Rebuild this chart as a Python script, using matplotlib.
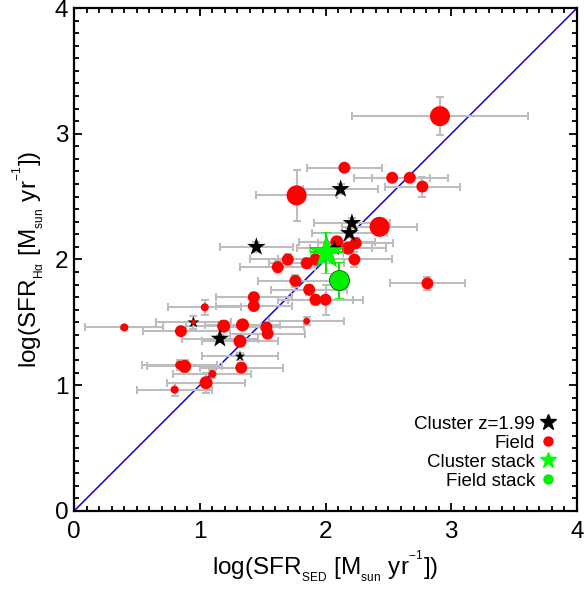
import matplotlib
matplotlib.use("Agg")
import matplotlib.pyplot as plt
from matplotlib.lines import Line2D
from matplotlib.ticker import MultipleLocator

plt.rcParams['font.family'] = ['Liberation Sans', 'DejaVu Sans']
plt.rcParams['mathtext.fontset'] = 'custom'
plt.rcParams['mathtext.rm'] = 'Liberation Sans'
plt.rcParams['mathtext.it'] = 'Liberation Sans:italic'

# ---- Field galaxies ----
field_x = [0.40, 0.85, 1.04, 1.19, 1.34, 1.32, 0.88, 0.84, 1.33, 1.10, 1.05, 0.80,
           1.43, 1.43, 1.53, 1.54, 1.85, 1.62, 1.70, 1.76, 1.87, 1.92, 2.00, 1.85,
           1.92, 2.09, 2.18, 2.24, 2.23, 1.77, 2.43, 2.91, 2.15, 2.53, 2.67, 2.77, 2.81]
field_y = [1.46, 1.43, 1.62, 1.47, 1.48, 1.35, 1.15, 1.16, 1.14, 1.09, 1.02, 0.965,
           1.70, 1.63, 1.46, 1.41, 1.51, 1.94, 2.00, 1.83, 1.76, 1.68, 1.68, 1.97,
           2.00, 2.14, 2.09, 2.13, 2.00, 2.51, 2.26, 3.14, 2.73, 2.65, 2.65, 2.58, 1.81]
field_xerr = [0.31, 0.30, 0.29, 0.30, 0.30, 0.30, 0.30, 0.30, 0.33, 0.31, 0.31, 0.30,
              0.30, 0.30, 0.30, 0.30, 0.30, 0.30, 0.30, 0.30, 0.30, 0.30, 0.30, 0.30,
              0.30, 0.30, 0.30, 0.30, 0.30, 0.32, 0.30, 0.70, 0.30, 0.30, 0.30, 0.30, 0.30]
field_yerr = [0.01, 0.03, 0.06, 0.04, 0.03, 0.04, 0.05, 0.04, 0.04, 0.03, 0.08, 0.05,
              0.03, 0.03, 0.03, 0.03, 0.03, 0.05, 0.04, 0.05, 0.04, 0.04, 0.12, 0.04,
              0.04, 0.04, 0.04, 0.04, 0.06, 0.20, 0.05, 0.15, 0.03, 0.02, 0.02, 0.08, 0.05]
field_size = [5.8, 8.6, 5.8, 9.4, 9.4, 9.4, 9.4, 6.5, 8.6, 5.8, 9.4, 5.8,
              8.6, 8.6, 8.6, 8.6, 5.0, 8.6, 8.6, 8.6, 8.6, 8.6, 8.6, 8.6,
              8.6, 9.4, 9.4, 8.6, 8.6, 14.4, 14.4, 14.4, 8.6, 8.6, 8.6, 8.6, 8.6]

# ---- Cluster z=1.99 members ----
clus_x = [1.16, 0.95, 1.32, 1.45, 2.12, 2.21, 2.19, 2.07]
clus_y = [1.37, 1.50, 1.23, 2.10, 2.56, 2.29, 2.21, 2.09]
clus_xerr = [0.30, 0.30, 0.30, 0.29, 0.30, 0.30, 0.30, 0.30]
clus_yerr = [0.03, 0.05, 0.03, 0.04, 0.04, 0.04, 0.04, 0.04]
clus_size = [14.0, 9.0, 8.0, 14.0, 14.0, 14.0, 14.0, 12.0]

# red dot overlying small star
overlap_x = [0.95]
overlap_y = [1.50]

# ---- Stacks ----
cstack_x, cstack_y = [2.00], [2.06]
cstack_xerr = [[0.12], [0.14]]
cstack_yerr = [[0.17], [0.16]]
fstack_x, fstack_y = [2.11], [1.84]
fstack_yerr = [[0.15], [0.14]]

xticks = [0, 1, 2, 3, 4]
yticks = [0, 1, 2, 3, 4]

fig = plt.figure(figsize=(5.86, 5.93), dpi=100)
ax = fig.add_axes([0.1263, 0.1383, 0.8584, 0.8482])

ax.plot([0, 4], [0, 4], color='#0000ff', lw=1.1, zorder=1)

gray = '#bdbdbd'
ax.errorbar(field_x, field_y, xerr=field_xerr, yerr=field_yerr, fmt='none',
            ecolor=gray, elinewidth=1.5, capsize=3, capthick=1.5, zorder=2)
ax.errorbar(clus_x, clus_y, xerr=clus_xerr, yerr=clus_yerr, fmt='none',
            ecolor=gray, elinewidth=1.5, capsize=3, capthick=1.5, zorder=2)

ax.scatter(field_x, field_y, s=[v**2 for v in field_size], c='#ff0000',
           edgecolors='none', marker='o', zorder=3)
ax.scatter(clus_x, clus_y, s=[v**2 for v in clus_size], c='black',
           edgecolors='none', marker='*', zorder=4)
ax.scatter(overlap_x, overlap_y, s=3.5**2, c='#ff0000', edgecolors='none',
           marker='o', zorder=5)

ax.errorbar(fstack_x, fstack_y, yerr=fstack_yerr, fmt='o', ms=14.4,
            mfc='#00ee00', mec='#006600', mew=0.6, ecolor='#00ee00',
            elinewidth=1.5, capsize=3.5, capthick=1.5, zorder=6)
ax.errorbar(cstack_x, cstack_y, xerr=cstack_xerr, yerr=cstack_yerr, fmt='*',
            ms=25, mfc='#00ff00', mec='#00cc00', mew=0.5, ecolor='#00ee00',
            elinewidth=1.5, capsize=3.5, capthick=1.5, zorder=7)

ax.set_xlim(0, 4)
ax.set_ylim(0, 4)
ax.set_xticks(xticks)
ax.set_yticks(yticks)
ax.xaxis.set_minor_locator(MultipleLocator(0.1))
ax.yaxis.set_minor_locator(MultipleLocator(0.1))
ax.tick_params(which='both', direction='in', top=True, right=True, width=1.3)
ax.tick_params(which='major', length=6, labelsize=17.5)
ax.tick_params(axis='x', which='major', pad=7)
ax.tick_params(axis='y', which='major', pad=4)
ax.tick_params(which='minor', length=3.5)
for sp in ax.spines.values():
    sp.set_linewidth(1.6)

ax.set_xlabel(r'log(SFR$_{\mathrm{_{SED}}}$ [M$_{\mathrm{_{sun}}}$ yr$^{^{\mathrm{-1}}}$])',
              fontsize=17.5, labelpad=4)
ax.set_ylabel(r'log(SFR$_{\mathrm{_{H\alpha}}}$ [M$_{\mathrm{_{sun}}}$ yr$^{^{\mathrm{-1}}}$])',
              fontsize=17.5, labelpad=6)

handles = [
    Line2D([], [], ls='none', marker='*', color='black', ms=12),
    Line2D([], [], ls='none', marker='o', color='#ff0000', ms=6.5),
    Line2D([], [], ls='none', marker='*', color='#00ff00', ms=12),
    Line2D([], [], ls='none', marker='o', color='#00ee00', ms=6.5),
]
labels = ['Cluster z=1.99', 'Field', 'Cluster stack', 'Field stack']
leg = ax.legend(handles, labels, loc='lower right', markerfirst=False,
                frameon=False, fontsize=13.5, handlelength=0.8, handletextpad=0.3,
                labelspacing=0.1, borderaxespad=0.9,
                bbox_to_anchor=(1.006, -0.006))
for t in leg.get_texts():
    t.set_ha('right')
leg._legend_box.align = 'right'

fig.savefig('out.png', dpi=100)
